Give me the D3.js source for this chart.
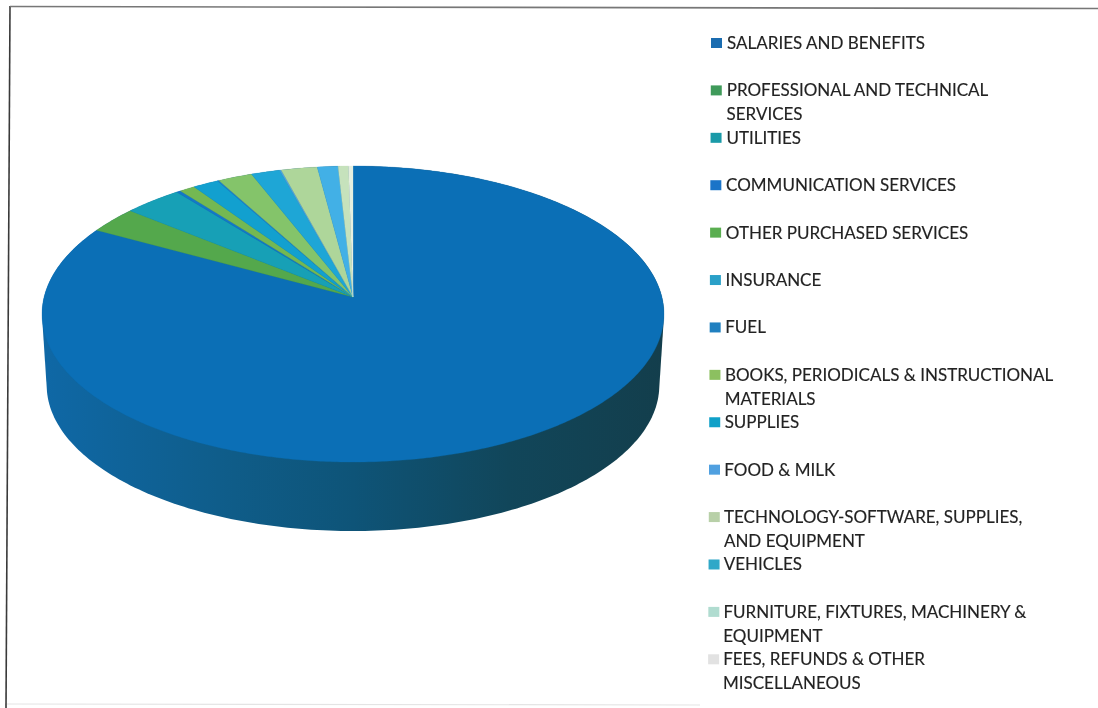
<!DOCTYPE html>
<html>
<head>
<meta charset="utf-8">
<script src="https://cdn.jsdelivr.net/npm/d3@7"></script>
<style>
  html, body { margin: 0; padding: 0; background: #fff; }
  svg { display: block; }
  .legend-label { font-family: Lato, "Open Sans", sans-serif; font-size: 17px; fill: #222; stroke: #222; stroke-width: 0.15px; }
  .soft { filter: blur(0.45px); }
</style>
</head>
<body>
<svg id="chart" width="1098" height="708"></svg>
<script>
// categories and shares (percent), clockwise from the top
const categories = [
  ['SALARIES AND BENEFITS'],
  ['PROFESSIONAL AND TECHNICAL', 'SERVICES'],
  ['UTILITIES'],
  ['COMMUNICATION SERVICES'],
  ['OTHER PURCHASED SERVICES'],
  ['INSURANCE'],
  ['FUEL'],
  ['BOOKS, PERIODICALS & INSTRUCTIONAL', 'MATERIALS'],
  ['SUPPLIES'],
  ['FOOD & MILK'],
  ['TECHNOLOGY-SOFTWARE, SUPPLIES,', 'AND EQUIPMENT'],
  ['VEHICLES'],
  ['FURNITURE, FIXTURES, MACHINERY &', 'EQUIPMENT'],
  ['FEES, REFUNDS & OTHER', 'MISCELLANEOUS']
];
const shares = [83.0, 2.9, 3.4, 0.25, 0.9, 1.5, 0.1, 2.0, 1.67, 0.1, 2.1, 1.2, 0.6, 0.26];
const colors = ['#0b6fb6','#54a84c','#17a0b6','#1478c8','#74b852','#12a0cf','#2080cc','#84c46a',
  '#1ea6d6','#4aa4e0','#aed69a','#42b0e6','#c6e2bc','#e6efe0'];
const swatchColors = ['#1a6cb0','#3f9a5a','#1a9aa8','#1a74c8','#5aae50','#2aa0c8','#2080c0','#8cc060',
  '#10a0c8','#50a0e0','#b8d0a8','#30a8c8','#b0dcd0','#e2e2e2'];
const sideStops = [[0,'#0f68a6'],[0.31,'#0f5c88'],[0.5,'#0e5478'],[0.75,'#11465a'],[1,'#133e4c']];

const svg = d3.select('#chart');
const defs = svg.append('defs');

// perspective tilt of the disc
const cx = 353, topY = 297, bottomY = 368.5;
const rimX = 308.9, rimY = 146.05, tilt = 0.1149, bottomScale = 0.985;

const project = (a, y0 = topY, s = 1) => {
  const w = 1 + tilt * Math.cos(a);
  return [cx + rimX * s * Math.sin(a) / w, y0 - rimY * s * Math.cos(a) / w];
};
const line = d3.line();
const TAU = Math.PI * 2;

// frame, scanned slightly skewed
const frame = svg.append('g').attr('fill', 'none').attr('class', 'soft');
frame.append('line').attr('x1', 10).attr('y1', 6).attr('x2', 6).attr('y2', 708).attr('stroke', '#3a3a3a').attr('stroke-width', 1.6);
frame.append('line').attr('x1', 10).attr('y1', 6.5).attr('x2', 1098).attr('y2', 8.5).attr('stroke', '#777').attr('stroke-width', 1.6);
frame.append('line').attr('x1', 7).attr('y1', 704).attr('x2', 700).attr('y2', 705).attr('stroke', '#e4e4e4').attr('stroke-width', 1.2);

// side wall
const grad = defs.append('linearGradient').attr('id', 'side')
  .attr('gradientUnits', 'userSpaceOnUse').attr('x1', 42).attr('x2', 664).attr('y1', 0).attr('y2', 0);
grad.selectAll('stop').data(sideStops).join('stop')
  .attr('offset', d => d[0]).attr('stop-color', d => d[1]);

const pie3d = svg.append('g').attr('class', 'soft');
const samples = d3.range(0, 360).map(d => d / 360 * TAU);
const hull = d3.polygonHull(samples.flatMap(a => [project(a), project(a, bottomY, bottomScale)]));
pie3d.append('path').attr('d', line(hull) + 'Z').attr('fill', 'url(#side)');

// top face
const arcs = d3.pie().sort(null).value(d => d)(shares);
const wedge = d => {
  const n = Math.max(2, Math.ceil((d.endAngle - d.startAngle) / 0.01));
  const rim = d3.range(n + 1).map(i => project(d.startAngle + (d.endAngle - d.startAngle) * i / n));
  return line([[cx, topY], ...rim]) + 'Z';
};
pie3d.append('g').selectAll('path').data(arcs).join('path')
  .attr('d', wedge)
  .attr('fill', (d, i) => colors[i])
  .attr('stroke', (d, i) => colors[i])
  .attr('stroke-width', 0.3);

// legend, one slot per line, two slots per entry
const slot = d3.scaleLinear().domain([0, 27]).range([43, 683]);
const textX = d3.scaleLinear().domain([0, 27]).range([727, 723]);
const swatchX = d3.scaleLinear().domain([0, 27]).range([711, 708]);
const legend = svg.append('g').attr('class', 'soft');
const items = legend.selectAll('g').data(categories).join('g');
items.append('rect')
  .attr('x', (d, i) => swatchX(i * 2))
  .attr('y', (d, i) => slot(i * 2) - 5)
  .attr('width', 11).attr('height', 10)
  .attr('fill', (d, i) => swatchColors[i]);
items.each(function (lines, i) {
  d3.select(this).selectAll('text').data(lines).join('text')
    .attr('class', 'legend-label')
    .attr('x', (d, j) => textX(i * 2 + j))
    .attr('y', (d, j) => slot(i * 2 + j))
    .attr('dy', '0.35em')
    .text(d => d);
});
</script>
</body>
</html>
